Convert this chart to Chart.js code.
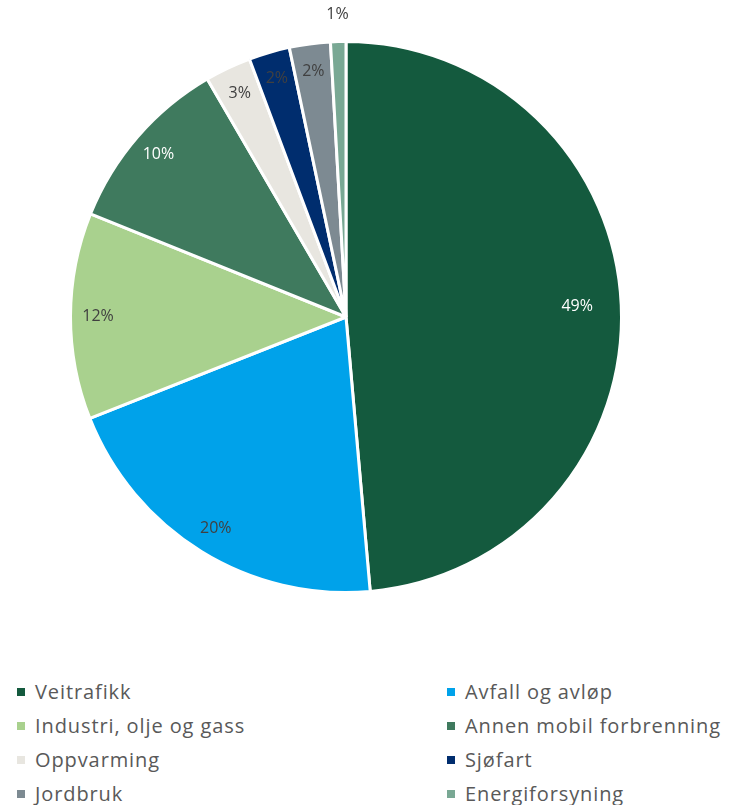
<!DOCTYPE html>
<html>
<head>
<meta charset="utf-8">
<script src="https://cdn.jsdelivr.net/npm/chart.js@4"></script>
<style>
  body { margin: 0; background: #fff; font-family: "Open Sans", sans-serif; }
  #wrap { position: relative; width: 743px; height: 640px; }
  #legend {
    display: grid;
    grid-template-columns: 430px 313px;
    row-gap: 11px;
    margin-top: 40px;
    padding-left: 17px;
    color: #595959;
    font-size: 20px;
    letter-spacing: 0.9px;
  }
  #legend div { display: flex; align-items: center; height: 23px; white-space: nowrap; }
  #legend span.box { width: 8px; height: 8px; margin-right: 10px; display: inline-block; }
</style>
</head>
<body>
<div id="wrap"><canvas id="pieChart"></canvas></div>
<div id="legend"></div>
<script>
const categories = ['Veitrafikk', 'Avfall og avløp', 'Industri, olje og gass', 'Annen mobil forbrenning',
                    'Oppvarming', 'Sjøfart', 'Jordbruk', 'Energiforsyning'];
const shares = [48.6, 20.4, 12.1, 10.5, 2.7, 2.4, 2.4, 0.9];
const sliceColors = ['#145a3e', '#00a2ea', '#a9d18e', '#3f7a5e', '#e8e6e0', '#002d6e', '#7d8a92', '#79a894'];
const labelColors = ['#ffffff', '#404040', '#404040', '#ffffff', '#404040', '#404040', '#404040', '#404040'];
// legend order: left column / right column, row by row
const legendOrder = [0, 1, 2, 3, 4, 5, 6, 7];

const pctLabels = {
    id: 'pctLabels',
    afterDatasetsDraw(chart) {
        const ctx = chart.ctx;
        const meta = chart.getDatasetMeta(0);
        const total = shares.reduce((a, b) => a + b, 0);
        ctx.save();
        ctx.font = '16px "Open Sans", sans-serif';
        ctx.textAlign = 'center';
        ctx.textBaseline = 'middle';
        meta.data.forEach((arc, i) => {
            const p = arc.getProps(['x', 'y', 'startAngle', 'endAngle', 'outerRadius'], true);
            const mid = (p.startAngle + p.endAngle) / 2;
            const r = i === 7 ? p.outerRadius * 1.1 : p.outerRadius * (i === 0 ? 0.84 : 0.9);
            ctx.fillStyle = labelColors[i];
            ctx.fillText(Math.round(shares[i] / total * 100) + '%', p.x + Math.cos(mid) * r, p.y + Math.sin(mid) * r);
        });
        ctx.restore();
    }
};

new Chart(document.getElementById('pieChart').getContext('2d'), {
    type: 'pie',
    data: {
        labels: categories,
        datasets: [{
            data: shares,
            backgroundColor: sliceColors,
            borderColor: '#ffffff',
            borderWidth: 3
        }]
    },
    options: {
        responsive: true,
        maintainAspectRatio: false,
        animation: false,
        layout: { padding: { left: 0, right: 51, top: 40, bottom: 46 } },
        plugins: {
            legend: { display: false },
            tooltip: { enabled: false }
        }
    },
    plugins: [pctLabels]
});

const legend = document.getElementById('legend');
legendOrder.forEach(i => {
    const item = document.createElement('div');
    item.innerHTML = '<span class="box" style="background:' + sliceColors[i] + '"></span>' + categories[i];
    legend.appendChild(item);
});
</script>
</body>
</html>
